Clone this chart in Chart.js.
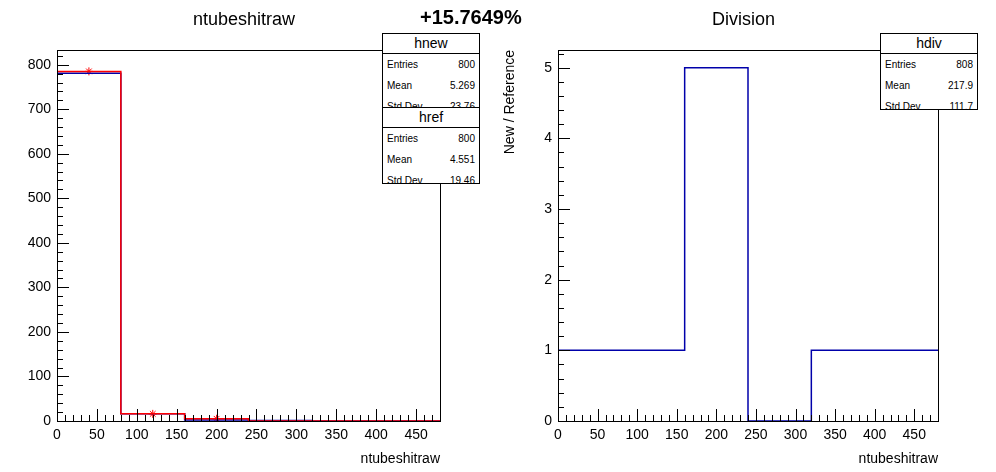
<!DOCTYPE html>
<html><head><meta charset="utf-8">
<script src="https://cdn.jsdelivr.net/npm/chart.js@4"></script>
<style>
body{margin:0;width:996px;height:472px;background:#fff;position:relative;overflow:hidden;font-family:"Liberation Sans",Arial,sans-serif}
canvas{position:absolute;top:0}
.t{position:absolute;font-size:18px;color:#000}
.box{position:absolute;background:#fff;border:1px solid #000;font-size:10px}
.box .h{font-size:14px;text-align:center;border-bottom:1px solid #000;height:19px;line-height:19px}
.box .r{display:flex;justify-content:space-between;padding:0 4px;height:21px;line-height:21px}
</style></head><body>
<canvas id="c1" width="498" height="472" style="left:0"></canvas>
<canvas id="c2" width="498" height="472" style="left:498px"></canvas>
<div class="t" style="left:193px;top:9px">ntubeshitraw</div>
<div class="t" style="left:420px;top:6px;font-weight:bold;font-size:20px">+15.7649%</div>
<div class="t" style="left:712px;top:9px">Division</div>
<div class="box" style="left:382px;top:33px;width:96px;height:74px;overflow:hidden">
 <div class="h">hnew</div><div class="r"><span>Entries</span><span>800</span></div><div class="r"><span>Mean</span><span>5.269</span></div><div class="r"><span>Std Dev</span><span>23.76</span></div></div>
<div class="box" style="left:382px;top:107px;width:96px;height:75px;overflow:hidden">
 <div class="h">href</div><div class="r"><span>Entries</span><span>800</span></div><div class="r"><span>Mean</span><span>4.551</span></div><div class="r"><span>Std Dev</span><span>19.46</span></div></div>
<div class="box" style="left:880px;top:33px;width:96px;height:75px;overflow:hidden">
 <div class="h">hdiv</div><div class="r"><span>Entries</span><span>808</span></div><div class="r"><span>Mean</span><span>217.9</span></div><div class="r"><span>Std Dev</span><span>111.7</span></div></div>
<script>
const binEdges=[0,80,160,240,320,400,480];
const hnew=[785,16,5,0,0,0];
const href=[781,16,2,1,0,0];
const hdiv=[1,1,5,0,1,1];
const xTicks=[0,50,100,150,200,250,300,350,400,450];

function steps(v){const p=binEdges.slice(0,-1).map((e,i)=>({x:e,y:v[i]}));p.push({x:480,y:v[v.length-1]});return p;}
function centers(v){return v.map((y,i)=>({x:(binEdges[i]+binEdges[i+1])/2,y})).filter(p=>p.y>0);}

const inTicks={id:'inTicks',afterDraw(c,a,o){
 const ctx=c.ctx,ca=c.chartArea,x=c.scales.x,y=c.scales.y;
 ctx.save();ctx.strokeStyle='#000';ctx.lineWidth=1;
 for(let v=0;v<=480;v+=10){const px=Math.round(x.getPixelForValue(v))+0.5;const L=v%50===0?12:6;
  ctx.beginPath();ctx.moveTo(px,ca.bottom);ctx.lineTo(px,ca.bottom-L);ctx.stroke();}
 for(let v=0;v<=o.ymax+1e-9;v+=o.minor){const py=Math.round(y.getPixelForValue(v))+0.5;
  const maj=Math.abs(v/o.major-Math.round(v/o.major))<1e-6;const L=maj?12:6;
  ctx.beginPath();ctx.moveTo(ca.left,py);ctx.lineTo(ca.left+L,py);ctx.stroke();}
 ctx.strokeRect(Math.round(ca.left)+0.5,Math.round(ca.top)+0.5,Math.round(ca.width),Math.round(ca.height));
 ctx.restore();}};

function mk(id,datasets,ymax,major,minor,yw,ytitle){
 return new Chart(document.getElementById(id),{type:'scatter',data:{datasets},
 options:{responsive:false,animation:false,events:[],
  layout:{padding:{top:50,right:58,left:0,bottom:0}},
  plugins:{legend:{display:false},tooltip:{enabled:false},inTicks:{ymax,major,minor}},
  scales:{
   x:{type:'linear',min:0,max:480,afterBuildTicks:s=>{s.ticks=xTicks.map(v=>({value:v}))},
      grid:{display:false,drawTicks:false},border:{display:false},
      ticks:{color:'#000',font:{size:14,family:'Liberation Sans'},padding:6,maxRotation:0,autoSkip:false},
      title:{display:true,text:'ntubeshitraw',align:'end',color:'#000',font:{size:14,family:'Liberation Sans'},padding:{top:2}},
      afterFit:s=>{s.height=51}},
   y:{type:'linear',min:0,max:ymax,
      afterBuildTicks:s=>{const t=[];for(let v=0;v<=ymax+1e-9;v+=major)t.push({value:v});s.ticks=t;},
      ticks:{color:'#000',font:{size:14,family:'Liberation Sans'},padding:6},
      grid:{display:false,drawTicks:false},border:{display:false},
      title:{display:!!ytitle,text:ytitle||'',align:'end',color:'#000',font:{size:14,family:'Liberation Sans'},padding:{bottom:10}},
      afterFit:s=>{s.width=yw}}
  }},plugins:[inTicks]});
}
const lineDs=(d,c)=>({data:d,showLine:true,stepped:'before',borderColor:c,borderWidth:1.5,pointRadius:0});
mk('c1',[
 lineDs(steps(hnew),'#ff0000'),
 lineDs(steps(href),'#0000aa'),
 {data:centers(hnew),pointStyle:'star',pointRadius:4,borderColor:'#ff0000',borderWidth:1,showLine:false}
],833,100,20,57,null);
mk('c2',[lineDs(steps(hdiv),'#0000aa')],5.25,1,0.2,60,'New / Reference');
</script></body></html>
